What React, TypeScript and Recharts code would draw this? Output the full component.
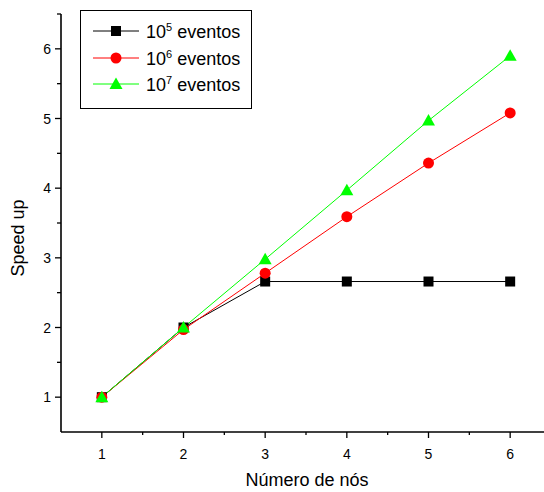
import { LineChart, Line, XAxis, YAxis, Legend } from "recharts";

const nodes = [1, 2, 3, 4, 5, 6];
const speedup1e5 = [1, 2.0, 2.66, 2.66, 2.66, 2.66];
const speedup1e6 = [1, 1.97, 2.78, 3.59, 4.36, 5.08];
const speedup1e7 = [1, 2.0, 2.98, 3.97, 4.97, 5.9];
const xTicks = [1, 1.5, 2, 2.5, 3, 3.5, 4, 4.5, 5, 5.5, 6];
const yTicks = [1, 1.5, 2, 2.5, 3, 3.5, 4, 4.5, 5, 5.5, 6, 6.5];
const seriesNames = ["5", "6", "7"];

const data = nodes.map((n, i) => ({
  n,
  a: speedup1e5[i],
  b: speedup1e6[i],
  c: speedup1e7[i],
}));

const FONT = "'Liberation Sans', Arial, sans-serif";

const Square = ({ cx, cy }: any) => (
  <rect x={cx - 5} y={cy - 5} width={10} height={10} fill="#000" />
);
const Circle = ({ cx, cy }: any) => <circle cx={cx} cy={cy} r={5.5} fill="#ff0000" />;
const Tri = ({ cx, cy }: any) => (
  <polygon
    points={`${cx},${cy - 6.5} ${cx - 6.5},${cy + 5} ${cx + 6.5},${cy + 5}`}
    fill="#00ff00"
  />
);

const YTick = ({ x, y, payload }: any) => {
  const major = Number.isInteger(payload.value);
  return (
    <g>
      <line x1={x} x2={x - (major ? 6 : 4)} y1={y} y2={y} stroke="#000" strokeWidth={1.3} />
      {major && (
        <text x={x - 10} y={y + 5} textAnchor="end" fontSize={14} fontFamily={FONT} fill="#000">
          {payload.value}
        </text>
      )}
    </g>
  );
};

const XTick = ({ x, y, payload }: any) => {
  const major = Number.isInteger(payload.value);
  return (
    <g>
      <line x1={x} x2={x} y1={y} y2={y + (major ? 6 : 3)} stroke="#000" strokeWidth={1.3} />
      {major && (
        <text x={x} y={y + 27} textAnchor="middle" fontSize={14} fontFamily={FONT} fill="#000">
          {payload.value}
        </text>
      )}
    </g>
  );
};

const legendIcons = [
  <rect x={18} y={0} width={10} height={10} fill="#000" />,
  <circle cx={23} cy={5} r={5.5} fill="#ff0000" />,
  <polygon points="23,-1.5 16.5,10 29.5,10" fill="#00ff00" />,
];
const legendColors = ["#000", "#ff0000", "#00ff00"];

const LegendBox = () => (
  <div
    style={{
      border: "1px solid #000",
      width: 170,
      height: 89,
      boxSizing: "content-box",
      background: "#fff",
      fontFamily: FONT,
      paddingTop: 8,
    }}
  >
    {seriesNames.map((s, i) => (
      <div key={s} style={{ height: 26.5, display: "flex", alignItems: "center", paddingLeft: 12 }}>
        <svg width={46} height={12} style={{ overflow: "visible" }}>
          <line x1={0} x2={46} y1={5} y2={5} stroke={legendColors[i]} strokeWidth={1} />
          {legendIcons[i]}
        </svg>
        <span style={{ marginLeft: 7, fontSize: 18, color: "#000" }}>
          10
          <sup style={{ fontSize: 11, verticalAlign: 7 }}>{s}</sup> eventos
        </span>
      </div>
    ))}
  </div>
);

export default function App() {
  return (
    <div style={{ position: "absolute", left: 0, top: 0, width: 544, height: 492, overflow: "hidden", background: "#fff" }}>
      <LineChart width={560} height={492} data={data} margin={{ top: 14, right: 9, bottom: 0, left: 0 }}>
        <XAxis
          dataKey="n"
          type="number"
          domain={[0.5, 6.5]}
          ticks={xTicks}
          tick={<XTick />}
          tickLine={false}
          tickSize={0}
          tickMargin={0}
          height={60}
          axisLine={{ stroke: "#000", strokeWidth: 1.6 }}
          interval={0}
        />
        <YAxis
          type="number"
          domain={[0.5, 6.5]}
          ticks={yTicks}
          tick={<YTick />}
          tickLine={false}
          tickSize={0}
          tickMargin={0}
          width={61}
          axisLine={{ stroke: "#000", strokeWidth: 1.6 }}
          interval={0}
        />
        <Legend
          layout="vertical"
          align="center"
          verticalAlign="middle"
          content={<LegendBox />}
          wrapperStyle={{ left: 80, top: 10, width: "auto", height: "auto" }}
        />
        <Line dataKey="a" stroke="#000" strokeWidth={1} dot={<Square />} isAnimationActive={false} />
        <Line dataKey="b" stroke="#ff0000" strokeWidth={1} dot={<Circle />} isAnimationActive={false} />
        <Line dataKey="c" stroke="#00ff00" strokeWidth={1} dot={<Tri />} isAnimationActive={false} />
      </LineChart>
      <div
        style={{
          position: "absolute",
          left: 18,
          top: 238,
          transform: "translate(-50%, -50%) rotate(-90deg)",
          fontFamily: FONT,
          fontSize: 18,
          whiteSpace: "nowrap",
        }}
      >
        Speed up
      </div>
      <div
        style={{
          position: "absolute",
          left: 307,
          top: 480,
          transform: "translate(-50%, -50%)",
          fontFamily: FONT,
          fontSize: 18,
          whiteSpace: "nowrap",
        }}
      >
        Número de nós
      </div>
    </div>
  );
}
